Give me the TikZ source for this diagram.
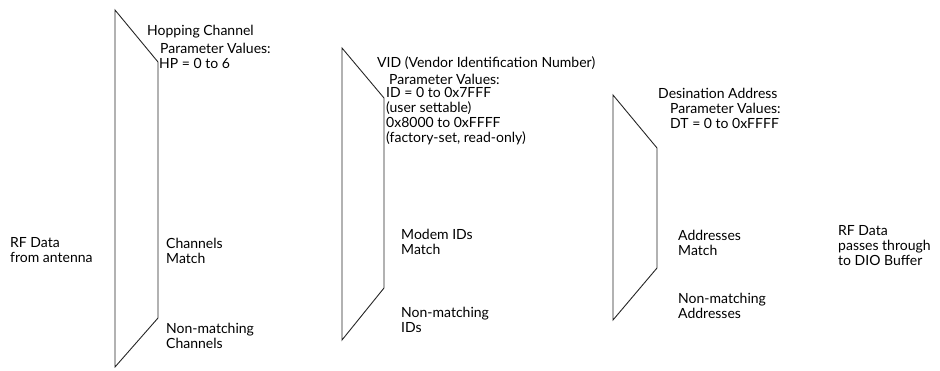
\documentclass[tikz,border=0pt]{standalone}
\usepackage{fontspec}
\setmainfont{Lato}
\begin{document}
\begin{tikzpicture}[x=1pt,y=-1pt,
  lbl/.style={anchor=west,inner sep=0pt,align=left,font=\fontsize{14}{15}\selectfont,text=black},
  gate/.style={draw=black!85,line width=0.9pt,line join=miter}]
\useasboundingbox (0,0) rectangle (940,370);
% gates
\draw[gate] (115,10) -- (158,62) -- (158,318) -- (115,367) -- cycle;
\draw[gate] (342,48) -- (384,98) -- (384,288) -- (342,340) -- cycle;
\draw[gate] (613,95) -- (657,148) -- (657,268) -- (613,320) -- cycle;
% left input
\node[lbl] (rfin) at (10,250.5) {RF Data\\from antenna};
% gate 1
\node[lbl] (hc) at (147,32) {Hopping Channel};
\node[lbl] (hcp) at (160,48) {Parameter Values:};
\node[lbl] (hcv) at (159,63) {HP = 0 to 6};
\node[lbl] (chm) at (166,250.5) {Channels\\Match};
\node[lbl] (chn) at (166,335.5) {Non-matching\\Channels};
% gate 2
\node[lbl] (vid) at (377,63) {VID (Vendor Identification Number)};
\node[lbl] (vidp) at (389,79) {Parameter Values:};
\node[lbl] (vidv) at (386,116.5) {ID = 0 to 0x7FFF\\(user settable)\\0x8000 to 0xFFFF\\(factory-set, read-only)};
\node[lbl] (mim) at (401,242) {Modem IDs\\Match};
\node[lbl] (min) at (401,319.5) {Non-matching\\IDs};
% gate 3
\node[lbl] (da) at (658,93) {Desination Address};
\node[lbl] (dap) at (670,108) {Parameter Values:};
\node[lbl] (dav) at (670,123) {DT = 0 to 0xFFFF};
\node[lbl] (adm) at (678,242.5) {Addresses\\Match};
\node[lbl] (adn) at (678,305.5) {Non-matching\\Addresses};
% output
\node[lbl] (rfout) at (838,245.5) {RF Data\\passes through\\to DIO Buffer};
\end{tikzpicture}
\end{document}
